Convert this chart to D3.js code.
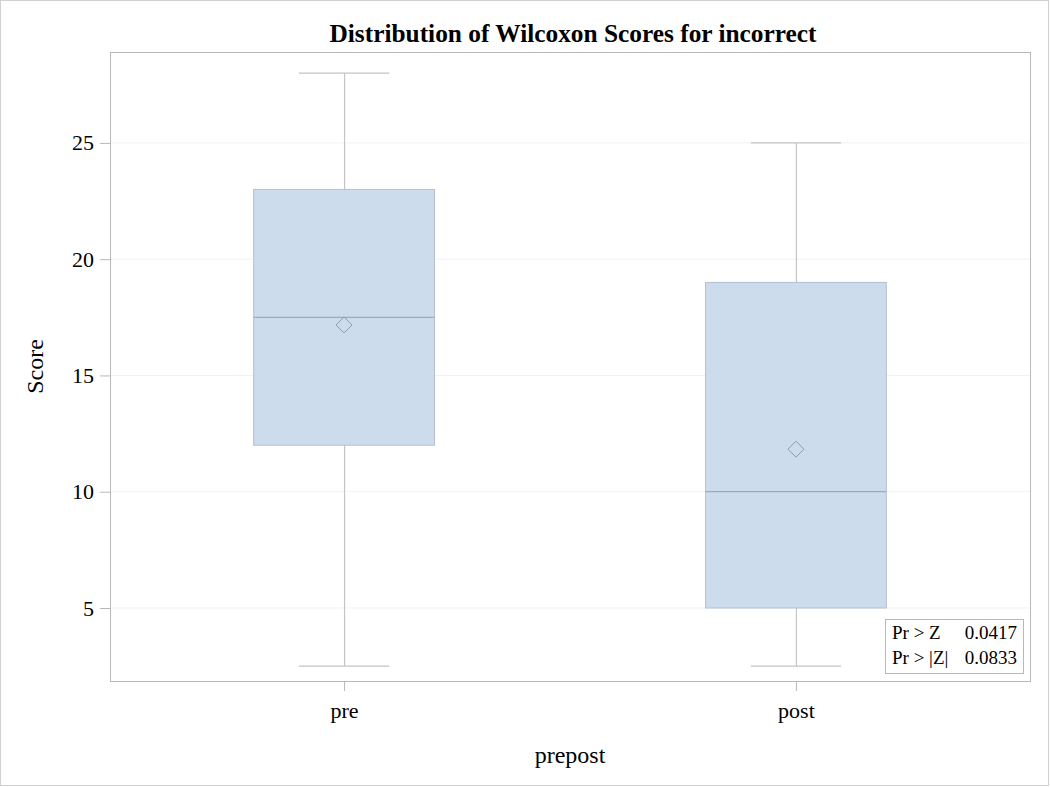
<!DOCTYPE html>
<html><head><meta charset="utf-8">
<script src="https://cdn.jsdelivr.net/npm/d3@7"></script>
<style>body{margin:0;background:#fff}svg{display:block}text{font-family:"Liberation Serif","Times New Roman",serif}</style>
</head><body>
<script>
const categories = ["pre", "post"];
const whiskerLow = [2.5, 2.5];
const q1 = [12, 5];
const median = [17.5, 10];
const q3 = [23, 19];
const whiskerHigh = [28, 25];
const means = [17.17, 11.83];
const yTicks = [5, 10, 15, 20, 25];
const statLabels = ["Pr > Z", "Pr > |Z|"];
const statValues = ["0.0417", "0.0833"];

const W = 1050, H = 787;
const m = {left: 110, right: 1030, top: 52, bottom: 681};
const svg = d3.select("body").append("svg").attr("width", W).attr("height", H);
svg.append("rect").attr("x", 0.5).attr("y", 0.5).attr("width", W - 2).attr("height", H - 2)
  .attr("fill", "#fff").attr("stroke", "#d0d0d0");

const y = d3.scaleLinear().domain([1.86, 28.91]).range([m.bottom, m.top]);
const x = d3.scalePoint().domain(categories).range([m.left, m.right]).padding(0.518);
const step = x.step();
const boxW = step * 0.4, capW = step * 0.2;

// grid
svg.append("g").selectAll("line").data(yTicks).join("line")
  .attr("x1", m.left).attr("x2", m.right).attr("y1", d => y(d)).attr("y2", d => y(d))
  .attr("stroke", "#f2f2f2");

// axes
const yAxis = svg.append("g").attr("transform", `translate(${m.left},0)`)
  .call(d3.axisLeft(y).tickValues(yTicks).tickSize(10).tickPadding(6));
yAxis.select(".domain").remove();
yAxis.selectAll("line").attr("stroke", "#b8b8b8");
yAxis.selectAll("text").attr("font-size", 22).attr("fill", "#000").attr("font-family", "Liberation Serif");

const xAxis = svg.append("g").attr("transform", `translate(0,${m.bottom})`)
  .call(d3.axisBottom(x).tickSize(10).tickPadding(11));
xAxis.select(".domain").remove();
xAxis.selectAll("line").attr("stroke", "#b8b8b8");
xAxis.selectAll("text").attr("font-size", 22).attr("fill", "#000").attr("font-family", "Liberation Serif");

// frame
svg.append("rect").attr("x", m.left + 0.5).attr("y", m.top + 0.5)
  .attr("width", m.right - m.left).attr("height", m.bottom - m.top)
  .attr("fill", "none").attr("stroke", "#b8b8b8");

const idx = categories.map((c, i) => i);
const g = svg.append("g");
// whiskers
g.selectAll(".wl").data(idx).join("line")
  .attr("x1", i => x(categories[i]) + 0.5).attr("x2", i => x(categories[i]) + 0.5)
  .attr("y1", i => y(whiskerLow[i])).attr("y2", i => y(whiskerHigh[i]))
  .attr("stroke", "#c4c4c4").attr("stroke-width", 1.2);
[whiskerLow, whiskerHigh].forEach(arr => {
  g.append("g").selectAll("line").data(idx).join("line")
    .attr("x1", i => x(categories[i]) - capW / 2).attr("x2", i => x(categories[i]) + capW / 2)
    .attr("y1", i => y(arr[i])).attr("y2", i => y(arr[i]))
    .attr("stroke", "#c4c4c4").attr("stroke-width", 1.2);
});
// boxes
g.append("g").selectAll("rect").data(idx).join("rect")
  .attr("x", i => x(categories[i]) - boxW / 2).attr("width", boxW)
  .attr("y", i => y(q3[i])).attr("height", i => y(q1[i]) - y(q3[i]))
  .attr("fill", "#cddcec").attr("stroke", "#b3c0cf").attr("stroke-width", 1);
// medians
g.append("g").selectAll("line").data(idx).join("line")
  .attr("x1", i => x(categories[i]) - boxW / 2).attr("x2", i => x(categories[i]) + boxW / 2)
  .attr("y1", i => y(median[i])).attr("y2", i => y(median[i]))
  .attr("stroke", "#9dabbb").attr("stroke-width", 1.2);
// means
g.append("g").selectAll("path").data(idx).join("path")
  .attr("transform", i => `translate(${x(categories[i])},${y(means[i])})`)
  .attr("d", "M0,-8L8,0L0,8L-8,0Z")
  .attr("fill", "none").attr("stroke", "#8f9aa8").attr("stroke-width", 1);

// inset
const ib = {x: 885, y: 619, w: 138, h: 54};
svg.append("rect").attr("x", ib.x + 0.5).attr("y", ib.y + 0.5).attr("width", ib.w).attr("height", ib.h)
  .attr("fill", "#fff").attr("stroke", "#b8b8b8");
statLabels.forEach((s, i) => {
  svg.append("text").attr("x", ib.x + 7).attr("y", ib.y + 20 + i * 25).attr("font-size", 19).text(s);
  svg.append("text").attr("x", ib.x + ib.w - 6).attr("y", ib.y + 20 + i * 25).attr("font-size", 19)
    .attr("text-anchor", "end").text(statValues[i]);
});

// titles
svg.append("text").attr("x", (m.left + m.right) / 2 + 3).attr("y", 42).attr("text-anchor", "middle")
  .attr("font-size", 26).attr("font-weight", "bold").attr("textLength", 487).attr("lengthAdjust", "spacingAndGlyphs")
  .text("Distribution of Wilcoxon Scores for incorrect");
svg.append("text").attr("x", (m.left + m.right) / 2).attr("y", 763).attr("text-anchor", "middle")
  .attr("font-size", 24).text("prepost");
svg.append("text").attr("transform", `translate(43,${(m.top + m.bottom) / 2}) rotate(-90)`)
  .attr("text-anchor", "middle").attr("font-size", 24).text("Score");
</script>
</body></html>
